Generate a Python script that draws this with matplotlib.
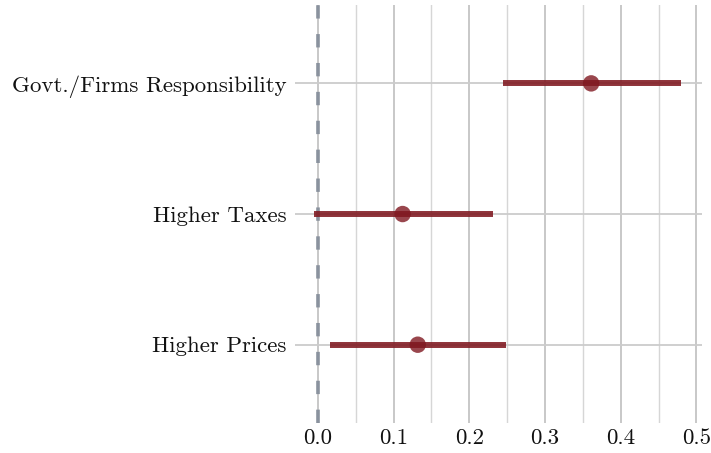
import matplotlib
matplotlib.use("Agg")
import matplotlib.pyplot as plt
import numpy as np

categories = ["Higher Prices", "Higher Taxes", "Govt./Firms Responsibility"]
estimates = [0.132, 0.112, 0.361]
ci_low = [0.016, -0.005, 0.244]
ci_high = [0.249, 0.231, 0.480]
xticks = [0.0, 0.1, 0.2, 0.3, 0.4, 0.5]
xticklabels = ["0.0", "0.1", "0.2", "0.3", "0.4", "0.5"]

plt.rcParams['font.family'] = ['cmr10', 'DejaVu Serif']
plt.rcParams['axes.formatter.use_mathtext'] = True

fig = plt.figure(figsize=(7.11, 4.53), dpi=100)
ax = fig.add_axes([0.415, 0.066, 0.572, 0.923])

y = np.arange(len(categories))
ax.set_xlim(-0.03, 0.507)
ax.set_ylim(-0.6, 2.6)

# grid
ax.set_xticks(xticks)
ax.set_xticks(np.arange(0.05, 0.5, 0.1), minor=True)
ax.grid(True, which='major', axis='x', color='#c4c4c4', lw=1.3, zorder=0)
ax.grid(True, which='minor', axis='x', color='#d6d6d6', lw=1.0, zorder=0)
ax.grid(True, which='major', axis='y', color='#cccccc', lw=1.3, zorder=0)

ax.axvline(0, color='#8a929e', lw=2.6, dashes=(3.7, 4.3), zorder=2)

color = '#801820'
for yi, lo, hi, est in zip(y, ci_low, ci_high, estimates):
    ax.plot([lo, hi], [yi, yi], color=color, lw=4.3, alpha=0.88,
            solid_capstyle='butt', zorder=3)
ax.scatter(estimates, y, s=140, color=color, alpha=0.8, zorder=4, edgecolors='none')

ax.set_yticks(y)
ax.set_yticklabels(categories)
ax.set_xticklabels(xticklabels)
ax.tick_params(axis='both', which='both', length=0, labelsize=16.5, colors='#111111')
ax.tick_params(axis='y', pad=6)
ax.tick_params(axis='x', pad=4)
for s in ax.spines.values():
    s.set_visible(False)

fig.savefig("out.png", dpi=100)
